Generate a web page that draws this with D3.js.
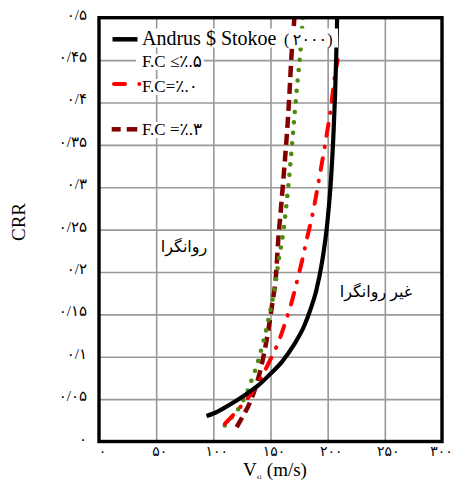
<!DOCTYPE html>
<html><head><meta charset="utf-8">
<script src="https://cdn.jsdelivr.net/npm/d3@7"></script>
<style>
html,body{margin:0;padding:0;background:#fff;}
text{font-family:"Liberation Serif","DejaVu Sans",serif;}
</style></head>
<body>
<svg id="c" width="453" height="490"></svg>
<script>
// ---- data ----
const xTicks = [0, 50, 100, 150, 200, 250, 300];
const xTickLabels = ["۰", "۵۰", "۱۰۰", "۱۵۰", "۲۰۰", "۲۵۰", "۳۰۰"];
const yTicks = [0, 0.05, 0.1, 0.15, 0.2, 0.25, 0.3, 0.35, 0.4, 0.45, 0.5];
const yTickLabels = ["۰", "۰/۰۵", "۰/۱", "۰/۱۵", "۰/۲", "۰/۲۵", "۰/۳", "۰/۳۵", "۰/۴", "۰/۴۵", "۰/۵"];

// Andrus & Stokoe (2000) curve
const asV   = [94, 100, 110, 120, 130, 140, 150, 160, 170, 180, 185, 190, 195, 200, 203, 205, 206.5, 207.5, 208.3];
const asCRR = [0.030, 0.033, 0.040, 0.048, 0.057, 0.067, 0.080, 0.094, 0.113, 0.138, 0.156, 0.178, 0.211, 0.262, 0.311, 0.360, 0.410, 0.455, 0.50];

// F.C = 0%
const fc0V   = [110.2, 118.9, 128, 137.9, 146.7, 156.8, 162.1, 168.5, 172.9, 178.7, 181.7, 186.0, 191.5, 197.0, 203.5, 205.5, 208.8];
const fc0CRR = [0.021, 0.033, 0.048, 0.064, 0.088, 0.115, 0.137, 0.163, 0.188, 0.218, 0.240, 0.261, 0.302, 0.344, 0.397, 0.427, 0.450];

// F.C <= 5%
const fc5V   = [110, 116, 122, 126, 130, 133, 136.5, 139, 141.5, 144, 146, 148, 150, 152, 154, 155.8, 157.5, 159.5, 161, 162.5, 165.5, 168.5, 171.5, 173.2, 175, 176, 178, 178.6];
const fc5CRR = [0.019, 0.028, 0.038, 0.048, 0.059, 0.071, 0.083, 0.094, 0.106, 0.119, 0.130, 0.143, 0.156, 0.168, 0.182, 0.200, 0.218, 0.232, 0.245, 0.260, 0.300, 0.344, 0.393, 0.419, 0.443, 0.456, 0.494, 0.505];

// F.C = 30%
const fc30V   = [120.4, 126, 132.1, 139.3, 145.2, 149.6, 151.9, 154, 155.4, 156.8, 158.3, 161, 163.6, 165.6, 167.1, 168.5, 170.8, 171.2];
const fc30CRR = [0.017, 0.030, 0.045, 0.072, 0.108, 0.143, 0.167, 0.182, 0.206, 0.241, 0.261, 0.305, 0.348, 0.387, 0.423, 0.462, 0.497, 0.505];

// ---- layout ----
const svg = d3.select("#c");
const L = 99, R = 442, T = 17.7, B = 441.5;
const x = d3.scaleLinear().domain([0, 300]).range([L, R]);
const y = d3.scaleLinear().domain([0, 0.5]).range([B, T]);

svg.append("rect").attr("width", 453).attr("height", 490).attr("fill", "#fff");

// gridlines via axes
const gx = svg.append("g").attr("transform", `translate(0,${B})`)
  .call(d3.axisBottom(x).tickValues(xTicks.slice(1, -1)).tickSize(-(B - T)).tickFormat(""));
gx.select(".domain").remove();
gx.selectAll(".tick line").attr("stroke", "#999999").attr("stroke-width", 1.6)
  .style("stroke", "#999999");
const gy = svg.append("g").attr("transform", `translate(${L},0)`)
  .call(d3.axisLeft(y).tickValues(yTicks.slice(1, -1)).tickSize(-(R - L)).tickFormat(""));
gy.select(".domain").remove();
gy.selectAll(".tick line").attr("stroke", "#999999").attr("stroke-width", 1.6)
  .style("stroke", "#999999");

// tick labels
const ay = svg.append("g").attr("transform", `translate(${L},0)`)
  .call(d3.axisLeft(y).tickValues(yTicks).tickSize(0).tickPadding(12)
    .tickFormat((d, i) => yTickLabels[i]));
ay.select(".domain").remove();
ay.selectAll("text").attr("font-size", 15).attr("fill", "#000").attr("dy", "0.1em")
  .attr("font-family", "Liberation Serif, DejaVu Sans, serif").attr("direction", "ltr");
const ax = svg.append("g").attr("transform", `translate(0,${B})`)
  .call(d3.axisBottom(x).tickValues(xTicks).tickSize(0).tickPadding(5)
    .tickFormat((d, i) => xTickLabels[i]));
ax.select(".domain").remove();
ax.selectAll("text").attr("font-size", 14).attr("fill", "#000")
  .attr("dx", (d, i) => i === xTicks.length - 1 ? -1 : 3)
  .attr("font-family", "Liberation Serif, DejaVu Sans, serif").attr("direction", "ltr");

// axis titles
const xt = svg.append("text").attr("x", 243).attr("y", 476).attr("font-size", 19).attr("fill", "#000");
xt.append("tspan").text("V");
xt.append("tspan").attr("font-size", 6).attr("dy", 3).text("s1");
xt.append("tspan").attr("dy", -3).text(" (m/s)");
svg.append("text").attr("transform", "translate(25,222) rotate(-90)")
  .attr("text-anchor", "middle").attr("font-size", 19).attr("fill", "#000").text("CRR");

// curves
const clip = svg.append("clipPath").attr("id", "pc");
clip.append("rect").attr("x", L).attr("y", T).attr("width", R - L).attr("height", B - T);
const g = svg.append("g").attr("clip-path", "url(#pc)");

const lineMono = d3.line().x(d => x(d[0])).y(d => y(d[1])).curve(d3.curveMonotoneX);
const lineSmooth = d3.line().x(d => x(d[0])).y(d => y(d[1])).curve(d3.curveBasis);
const zip = (a, b) => a.map((v, i) => [v, b[i]]);

g.append("path").attr("d", lineSmooth(zip(fc30V, fc30CRR))).attr("fill", "none")
  .attr("stroke", "#820000").attr("stroke-width", 4.5).attr("stroke-dasharray", "11 6");
g.append("path").attr("d", lineSmooth(zip(fc5V, fc5CRR))).attr("fill", "none")
  .attr("stroke", "#4f8a10").attr("stroke-width", 4.6).attr("stroke-linecap", "round")
  .attr("stroke-dasharray", "0 10.5");
g.append("path").attr("d", lineSmooth(zip(fc0V, fc0CRR))).attr("fill", "none")
  .attr("stroke", "#ff0000").attr("stroke-width", 4).attr("stroke-linecap", "round")
  .attr("stroke-dasharray", "12 11 0.5 11");
g.append("path").attr("d", lineMono(zip(asV, asCRR))).attr("fill", "none")
  .attr("stroke", "#000").attr("stroke-width", 4.2);

// frame
svg.append("rect").attr("x", L).attr("y", T).attr("width", R - L).attr("height", B - T)
  .attr("fill", "none").attr("stroke", "#000").attr("stroke-width", 3.4);

// region labels
svg.append("text").attr("x", 184).attr("y", 252).attr("text-anchor", "middle")
  .attr("font-size", 16).attr("fill", "#000").text("روانگرا");
svg.append("text").attr("x", 376).attr("y", 297).attr("text-anchor", "middle")
  .attr("font-size", 16).attr("fill", "#000").text("غیر روانگرا");

// legend
const leg = svg.append("g");
function legText(txt, yb, size) {
  return leg.append("text").attr("x", 142).attr("y", yb).attr("font-size", size)
    .attr("fill", "#000").attr("direction", "ltr").text(txt);
}
const t1 = legText("Andrus $ Stokoe", 44.5, 20);
t1.append("tspan").attr("font-size", 16).attr("letter-spacing", 3.5).text(" (۲۰۰۰)");
const t2 = legText("F.C ≤٪.۵", 67, 17);
const t3 = legText("F.C=٪.۰", 92, 17);
const t4 = legText("F.C =٪.۳", 135, 17);
[t1, t2, t3, t4].forEach(t => {
  const b = t.node().getBBox();
  leg.insert("rect", "text").attr("x", b.x - 6).attr("y", b.y + 2)
    .attr("width", b.width + 8).attr("height", b.height - 3).attr("fill", "#fff");
});
leg.append("line").attr("x1", 112.5).attr("x2", 137.5).attr("y1", 39.3).attr("y2", 39.3)
  .attr("stroke", "#000").attr("stroke-width", 4.5);
leg.append("line").attr("x1", 114).attr("x2", 125).attr("y1", 84).attr("y2", 84)
  .attr("stroke", "#ff0000").attr("stroke-width", 4).attr("stroke-linecap", "round");
leg.append("circle").attr("cx", 139.3).attr("cy", 84).attr("r", 2).attr("fill", "#ff0000");
leg.append("line").attr("x1", 111.7).attr("x2", 120.7).attr("y1", 129.3).attr("y2", 129.3)
  .attr("stroke", "#820000").attr("stroke-width", 4.5);
leg.append("line").attr("x1", 126.7).attr("x2", 137.3).attr("y1", 129.3).attr("y2", 129.3)
  .attr("stroke", "#820000").attr("stroke-width", 4.5);
</script>
</body></html>
